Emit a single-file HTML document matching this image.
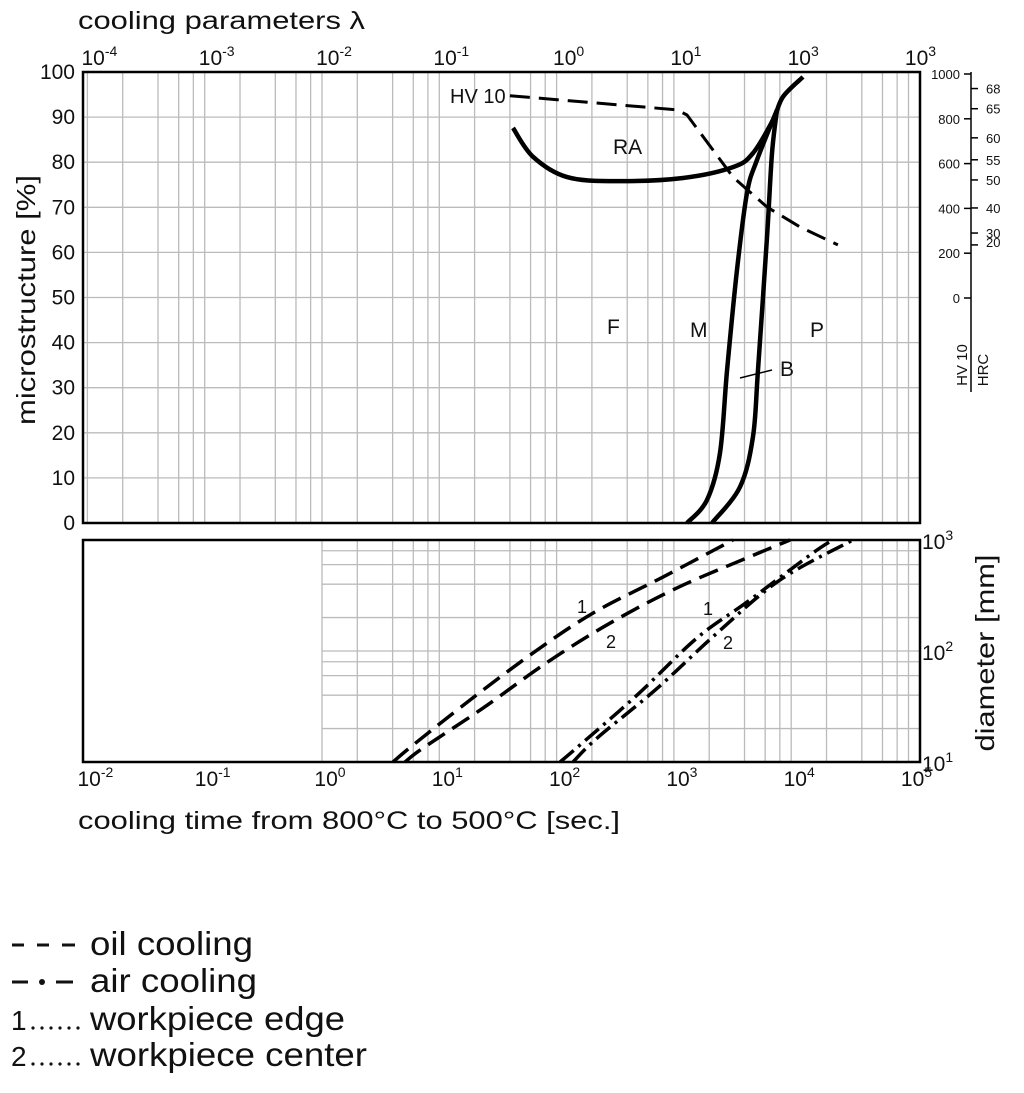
<!DOCTYPE html>
<html><head><meta charset="utf-8">
<style>
body{margin:0;background:#fff;width:1024px;height:1093px;overflow:hidden;font-family:"Liberation Sans",sans-serif}
svg{position:absolute;left:0;top:0}
</style></head><body>
<svg id="chart" width="1024" height="1093" viewBox="0 0 1024 1093"></svg>
<script>
// ---- data ----
const topTickExps = [-4,-3,-2,-1,0,1,3,3];
const bottomTickExps = [-2,-1,0,1,2,3,4,5];
const pctTicks = [0,10,20,30,40,50,60,70,80,90,100];
const hvTicks = [0,200,400,600,800,1000];
const hrcLabels = ['68','65','60','55','50','40','30','20'];
const hrcAsHV = [935,845,715,617,527,402,290,237];
// microstructure curves: cooling time [s], percent
const raTime = [42.5,63,123,327,1196,3190,4720,7000,8510,12600];
const raPct = [87.6,81.2,76.7,75.8,76.5,78.9,82.0,89.4,94.5,98.9];
const mTime = [1294,1914,2470,2840,3450,4200,5110,7570];
const mPct = [0,5.1,15.5,33.9,56.1,73.2,80.5,91.6];
const bTime = [2113,3660,4720,5210,6220,6860,7570];
const bPct = [0,8,19.1,33.9,63.4,82,91.6];
const hvTime = [40,1062,1294,3190,6220,11900,25000];
const hvValue = [903,840,817,540,406,317,237];
// diameter curves: cooling time [s], diameter [mm]
const oilEdgeTime = [4.03,5.97,18.3,63,205,807,3190];
const oilEdgeDia = [10,14.2,36.2,96,220,464,1000];
const oilCenterTime = [5.1,7.3,23.6,83,285,1062,4200,9770];
const oilCenterDia = [10,13.4,30.6,79,178,370,690,1000];
const airEdgeTime = [107,158,484,1573,4200,15300,22700];
const airEdgeDia = [10,14.2,40,131,276,764,1000];
const airCenterTime = [138,221,718,2330,8040,33600];
const airCenterDia = [10,16.4,46,145,437,1000];

// ---- scales ----
const X0=83,X1=920,T0=72,TB=523,B0=540,BB=762;
const xT = t => 322 + 117.3*Math.log10(t);
const yP = p => TB - p*(TB-T0)/100;
const yHV = v => 298 - v*0.224;
const yD = d => BB - (Math.log10(d)-1)*111;
const svg=document.getElementById('chart');
const NS='http://www.w3.org/2000/svg';
function mk(tag,attrs,parent){const e=document.createElementNS(NS,tag);for(const k in attrs)e.setAttribute(k,attrs[k]);(parent||svg).appendChild(e);return e;}
function txt(x,y,s,size,anchor,parent){const e=mk('text',{x:x,y:y,'font-size':size,'text-anchor':anchor||'start',fill:'#111'},parent);e.textContent=s;return e;}
function pow(x,y,exp,name){const g=mk('text',{x:x,y:y,'font-size':21,'text-anchor':'middle',fill:'#111'});
 
 
 const a=document.createElementNS(NS,'tspan');a.textContent='10';g.appendChild(a);
 const b=document.createElementNS(NS,'tspan');b.setAttribute('font-size','14');b.setAttribute('dy','-9');b.textContent=String(exp);g.appendChild(b);}
function path(xs,ys,fx,fy,attrs,name,linear){const pts=xs.map((v,i)=>[fx(v),fy(ys[i])]);
 let d='M'+pts[0][0]+','+pts[0][1];
 for(let i=1;i<pts.length;i++){
  if(linear){d+=' L'+pts[i][0]+','+pts[i][1];continue;}
  const p0=pts[Math.max(i-2,0)],p1=pts[i-1],p2=pts[i],p3=pts[Math.min(i+1,pts.length-1)];
  d+=' C'+(p1[0]+(p2[0]-p0[0])/6)+','+(p1[1]+(p2[1]-p0[1])/6)+' '+(p2[0]-(p3[0]-p1[0])/6)+','+(p2[1]-(p3[1]-p1[1])/6)+' '+p2[0]+','+p2[1];}
 const e=mk('path',Object.assign({d:d,fill:'none',stroke:'#000','stroke-linecap':'butt','stroke-linejoin':'round'},attrs));
 
 
 return e;}

// ---- top grid ----
const gg=mk('g',{stroke:'#bbb','stroke-width':1.3});


const mults=[1,2,4,6,8];
for(let e=-3;e<=5;e++)for(const m of mults){const x=xT(m*Math.pow(10,e));if(x>X0+2&&x<X1-2)mk('line',{x1:x,y1:T0,x2:x,y2:TB},gg);}
for(const p of pctTicks){mk('line',{x1:X0,y1:yP(p),x2:X1,y2:yP(p)},gg);}
// bottom grid
const bg=mk('g',{stroke:'#bbb','stroke-width':1.3});


for(let e=0;e<=5;e++)for(const m of mults){const x=xT(m*Math.pow(10,e));if(x>=321&&x<X1-2)mk('line',{x1:x,y1:B0,x2:x,y2:BB},bg);}
for(const d of [20,40,60,80,100,200,400,600,800]){mk('line',{x1:322,y1:yD(d),x2:X1,y2:yD(d)},bg);}

// frames
const f1=mk('rect',{x:X0,y:T0,width:X1-X0,height:TB-T0,fill:'none',stroke:'#000','stroke-width':2.5});


const f2=mk('rect',{x:X0,y:B0,width:X1-X0,height:BB-B0,fill:'none',stroke:'#000','stroke-width':2.5});



// tick labels
topTickExps.forEach((e,i)=>pow(xT(Math.pow(10,i-2))+12,65,e,'top-tick-label'));
bottomTickExps.forEach((e,i)=>pow(xT(Math.pow(10,e))+8,786,e,'bottom-tick-label'));
pctTicks.forEach(p=>{const t=txt(75,yP(p)+7,String(p),21,'end');});
[[1000,3],[100,2],[10,1]].forEach(([d,e])=>{const g=mk('text',{x:922,y:yD(d)+9,'font-size':21,fill:'#111'});
 
 
 const a=document.createElementNS(NS,'tspan');a.textContent='10';g.appendChild(a);
 const b=document.createElementNS(NS,'tspan');b.setAttribute('font-size','14');b.setAttribute('dy','-9');b.textContent=e;g.appendChild(b);});

// axis titles
function fitted(x,y,s,size,len,name,transform){const t=txt(x,y,s,size,transform?'middle':'start');t.setAttribute('textLength',len);t.setAttribute('lengthAdjust','spacingAndGlyphs');if(transform)t.setAttribute('transform',transform);return t;}
fitted(78,29,'cooling parameters λ',25,287,'top-axis-title');
fitted(78,829,'cooling time from 800°C to 500°C [sec.]',25,542,'x-axis-title');
fitted(0,0,'microstructure [%]',26,250,'y-axis-title','translate(35,300) rotate(-90)');
fitted(0,0,'diameter [mm]',26,197,'diameter-axis-title','translate(994,653) rotate(-90)');

// hardness axis
const ha=mk('g',{stroke:'#000','stroke-width':1.5});


mk('line',{x1:971,y1:72,x2:971,y2:392},ha);
hvTicks.forEach(v=>{mk('line',{x1:964,y1:yHV(v),x2:971,y2:yHV(v)},ha);const l=txt(960,yHV(v)+5,String(v),13,'end');});
hrcAsHV.forEach((v,i)=>{mk('line',{x1:971,y1:yHV(v),x2:978,y2:yHV(v)},ha);const l=txt(986,yHV(v)+(i==7?2:5),hrcLabels[i],13);});
let t=txt(0,0,'HV 10',15,'middle');t.setAttribute('transform','translate(967,365) rotate(-90)');
t=txt(0,0,'HRC',15,'middle');t.setAttribute('transform','translate(988,370) rotate(-90)');

// curves
path(raTime,raPct,xT,yP,{'stroke-width':4.5},'ra-curve');
path(mTime,mPct,xT,yP,{'stroke-width':4.5},'martensite-boundary');
path(bTime,bPct,xT,yP,{'stroke-width':4.5},'bainite-boundary');
path(hvTime,hvValue,xT,yHV,{'stroke-width':3,'stroke-dasharray':'20,9'},'hv10-curve',true);
path(oilEdgeTime,oilEdgeDia,xT,yD,{'stroke-width':3.5,'stroke-dasharray':'20,9'},'oil-edge-curve');
path(oilCenterTime,oilCenterDia,xT,yD,{'stroke-width':3.5,'stroke-dasharray':'20,9'},'oil-center-curve');
path(airEdgeTime,airEdgeDia,xT,yD,{'stroke-width':3.5,'stroke-dasharray':'18,6,3,6'},'air-edge-curve');
path(airCenterTime,airCenterDia,xT,yD,{'stroke-width':3.5,'stroke-dasharray':'18,6,3,6'},'air-center-curve');

// region labels
[['HV 10',450,103,20,'hv10-label'],['RA',613,154,21,'ra-label'],['F',607,334,21,'ferrite-label'],['M',690,337,21,'martensite-label'],['P',810,337,21,'pearlite-label'],['B',780,376,21,'bainite-label'],
 ['1',577,613,18,'oil-edge-label'],['2',606,648,18,'oil-center-label'],['1',703,615,18,'air-edge-label'],['2',723,649,18,'air-center-label']].forEach(a=>{const l=txt(a[1],a[2],a[0],a[3]);});
const ll=mk('line',{x1:740,y1:378,x2:772,y2:370,stroke:'#000','stroke-width':1.5});



// legend
const lg=mk('g',{});


[['oil cooling',955,163],['air cooling',992,167],['workpiece edge',1030,255],['workpiece center',1066,277]].forEach(([s,y,w])=>{
 const e=txt(90,y,s,33,'start',lg);e.setAttribute('textLength',w);e.setAttribute('lengthAdjust','spacingAndGlyphs');
 
 });
[[12,24],[37,49],[62,75]].forEach(([a,b])=>mk('line',{x1:a,y1:945,x2:b,y2:945,stroke:'#111','stroke-width':3},lg));
mk('line',{x1:12,y1:982,x2:28,y2:982,stroke:'#111','stroke-width':3},lg);
mk('circle',{cx:42,cy:982,r:3,fill:'#111'},lg);
mk('line',{x1:56,y1:982,x2:73,y2:982,stroke:'#111','stroke-width':3},lg);
txt(11,1030,'1',28,'start',lg);txt(11,1066,'2',28,'start',lg);
for(let i=0;i<6;i++){mk('circle',{cx:33+i*9,cy:1028,r:1.6,fill:'#111'},lg);mk('circle',{cx:33+i*9,cy:1064,r:1.6,fill:'#111'},lg);}
</script>
</body></html>
